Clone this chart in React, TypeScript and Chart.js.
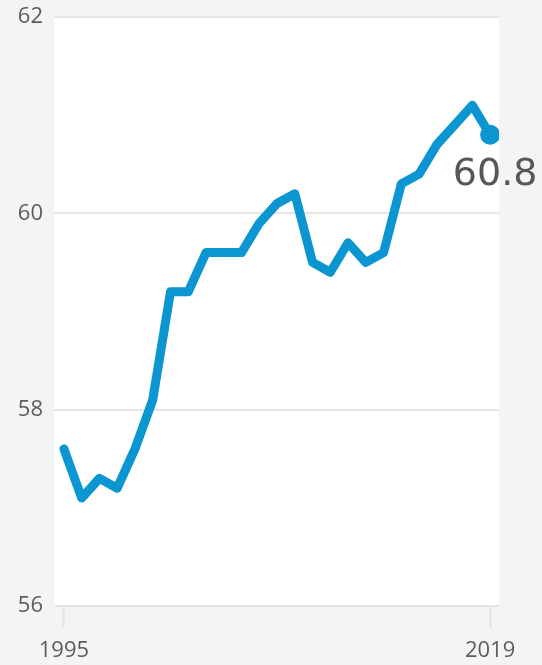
import React, { useEffect, useRef } from "react";
import { Chart, registerables } from "chart.js";

Chart.register(...registerables);

const years: number[] = [
  1995, 1996, 1997, 1998, 1999, 2000, 2001, 2002, 2003, 2004, 2005, 2006, 2007,
  2008, 2009, 2010, 2011, 2012, 2013, 2014, 2015, 2016, 2017, 2018, 2019,
];
const values: number[] = [
  57.6, 57.1, 57.3, 57.2, 57.6, 58.1, 59.2, 59.2, 59.6, 59.6, 59.6, 59.9, 60.1,
  60.2, 59.5, 59.4, 59.7, 59.5, 59.6, 60.3, 60.4, 60.7, 60.9, 61.1, 60.8,
];
const xTickYears: number[] = [1995, 2019];
const yTicks: number[] = [56, 58, 60, 62];
const endLabel = "60.8";

const LINE = "#0b95d1";
const TICK_FONT = "'Open Sans', sans-serif";

export default function App() {
  const ref = useRef<HTMLCanvasElement | null>(null);

  useEffect(() => {
    if (!ref.current) return;
    const bgPlugin = {
      id: "bg",
      beforeDraw(chart: any) {
        const { ctx, chartArea } = chart;
        ctx.save();
        ctx.fillStyle = "#f4f4f4";
        ctx.fillRect(0, 0, chart.width, chart.height);
        ctx.fillStyle = "#ffffff";
        ctx.fillRect(
          chartArea.left,
          chartArea.top,
          chartArea.right - chartArea.left,
          chartArea.bottom - chartArea.top
        );
        ctx.restore();
      },
    };
    const labelPlugin = {
      id: "endLabel",
      afterDatasetsDraw(chart: any) {
        const meta = chart.getDatasetMeta(0);
        const pt = meta.data[meta.data.length - 1];
        if (!pt) return;
        const ctx = chart.ctx;
        ctx.save();
        ctx.font = "38px 'DejaVu Sans', sans-serif";
        ctx.fillStyle = "#575757";
        ctx.textAlign = "center";
        ctx.textBaseline = "alphabetic";
        ctx.fillText(endLabel, pt.x + 5, pt.y + 50);
        ctx.restore();
      },
    };

    const chart = new Chart(ref.current, {
      type: "line",
      data: {
        datasets: [
          {
            data: years.map((y, i) => ({ x: y, y: values[i] })),
            borderColor: LINE,
            backgroundColor: LINE,
            borderWidth: 9,
            borderJoinStyle: "round",
            borderCapStyle: "round",
            tension: 0,
            pointRadius: years.map((_, i) => (i === years.length - 1 ? 10 : 0)),
            pointBorderWidth: 0,
            pointBackgroundColor: LINE,
            pointHoverRadius: 0,
          },
        ],
      },
      options: {
        animation: false,
        responsive: false,
        maintainAspectRatio: false,
        layout: { padding: { top: 17, right: 43, left: 0, bottom: 0 } },
        plugins: {
          legend: { display: false },
          tooltip: { enabled: false },
        },
        scales: {
          x: {
            type: "linear",
            min: 1994.44,
            max: 2019.5,
            afterBuildTicks(scale: any) {
              scale.ticks = xTickYears.map((v) => ({ value: v }));
            },
            afterFit(scale: any) {
              scale.height = 59;
              scale.paddingLeft = 0;
              scale.paddingRight = 0;
            },
            grid: {
              drawOnChartArea: false,
              drawTicks: true,
              tickLength: 22,
              tickWidth: 2,
              tickColor: "#e2e2e2",
            },
            border: { display: false },
            ticks: {
              autoSkip: false,
              maxRotation: 0,
              padding: 10,
              color: "#5c5c5c",
              font: { family: TICK_FONT, size: 22 },
              callback: (v: any) => String(v),
            },
          },
          y: {
            type: "linear",
            min: 56,
            max: 62,
            afterBuildTicks(scale: any) {
              scale.ticks = yTicks.map((v) => ({ value: v }));
            },
            afterFit(scale: any) {
              scale.width = 54;
              scale.paddingTop = 0;
              scale.paddingBottom = 0;
            },
            grid: {
              color: "#e6e6e6",
              lineWidth: 2,
              drawTicks: false,
            },
            border: { display: false },
            ticks: {
              padding: 11,
              color: "#5c5c5c",
              font: { family: TICK_FONT, size: 22 },
              callback: (v: any) => String(v),
            },
          },
        },
      } as any,
      plugins: [bgPlugin, labelPlugin],
    });
    return () => chart.destroy();
  }, []);

  return (
    <div style={{ position: "absolute", left: 0, top: 0, width: 542, height: 665, background: "#f4f4f4" }}>
      <canvas ref={ref} width={542} height={665} style={{ display: "block", width: 542, height: 665 }} />
    </div>
  );
}
